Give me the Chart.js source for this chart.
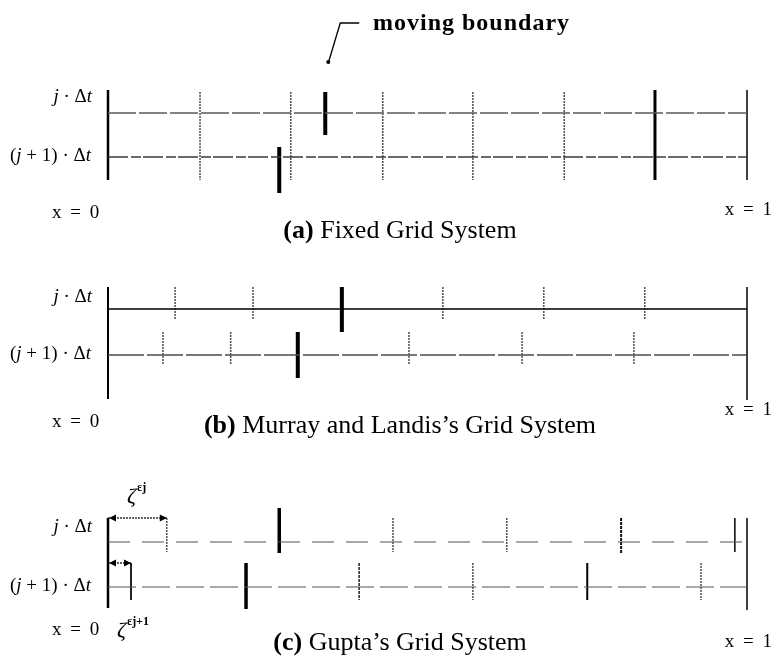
<!DOCTYPE html>
<html><head><meta charset="utf-8">
<script src="https://cdn.jsdelivr.net/npm/chart.js@4.4.0/dist/chart.umd.min.js"></script>
<style>html,body{margin:0;padding:0;background:#fff;}canvas{display:block}</style>
</head><body>
<canvas id="c" width="771" height="656"></canvas>
<script>
// ---------------- data ----------------
const rowLabels = ['j · Δt', '(j + 1) · Δt'];
const edgeLabels = ['x = 0', 'x = 1'];
const panelTags = ['(a)', '(b)', '(c)'];
const panelTitles = ['Fixed Grid System', 'Murray and Landis’s Grid System', 'Gupta’s Grid System'];
const annotationText = 'moving boundary';
const offsetSymbol = 'ζ';
const offsetSup = ['εj', 'εj+1'];
const domain = [0, 1];
// (a) fixed grid nodes and front position at rows j, j+1
const fixedNodes = [0, 0.144, 0.286, 0.430, 0.571, 0.714, 0.856, 1];
const fixedFront = [0.340, 0.268];
// (b) Murray & Landis moving nodes (excluding front & ends)
const murrayNodesJ = [0.105, 0.227, 0.524, 0.682, 0.840];
const murrayNodesJ1 = [0.086, 0.192, 0.471, 0.648, 0.823];
const murrayFront = [0.366, 0.297];
// (c) Gupta nodes
const guptaNodesJ = [0.092, 0.446, 0.624, 0.803, 0.981];
const guptaNodesJ1 = [0.036, 0.393, 0.571, 0.750, 0.928];
const guptaFront = [0.268, 0.216];

// ---------------- helpers ----------------
function vlines(xs, y1, y2) {
  const p = [];
  xs.forEach(x => { p.push({x: x, y: y1}, {x: x, y: y2}, {x: x, y: null}); });
  return p;
}
function hline(y) { return [{x: domain[0], y: y}, {x: domain[1], y: y}]; }
function seg(x1, x2, y) { return [{x: x1, y: y}, {x: x2, y: y}]; }
function ds(data, color, width, dash) {
  return {data: data, borderColor: color, borderWidth: width, borderDash: dash || [],
    showLine: true, pointRadius: 0, pointHoverRadius: 0, spanGaps: false, tension: 0,
    fill: false, borderCapStyle: 'butt'};
}
const DOT = [2, 1];
const GRAY = '#505050';

const datasets = [
  // ---- (a) ----
  ds(hline(113), '#5a5a5a', 1.5, [28, 3]),
  ds(hline(157), '#3a3a3a', 1.5, [20, 3, 10, 2]),
  ds(vlines(fixedNodes.slice(1, 6), 92, 180), GRAY, 1.5, DOT),
  ds(vlines([fixedNodes[6]], 90, 180), '#000', 3),
  ds(vlines([fixedNodes[0]], 90, 180), '#000', 2.5),
  ds(vlines([fixedNodes[7]], 90, 180), '#000', 1.5),
  ds(vlines([fixedFront[0]], 92, 135), '#000', 4),
  ds(vlines([fixedFront[1]], 147, 193), '#000', 4),
  // ---- (b) ----
  ds(hline(309), '#000', 1.3),
  ds(hline(355), '#4a4a4a', 1.5, [36, 3]),
  ds(vlines(murrayNodesJ, 287, 320), GRAY, 1.5, DOT),
  ds(vlines(murrayNodesJ1, 332, 365), GRAY, 1.5, DOT),
  ds(vlines([domain[0]], 287, 399), '#000', 2),
  ds(vlines([domain[1]], 287, 400), '#000', 1.5),
  ds(vlines([murrayFront[0]], 287, 332), '#000', 4),
  ds(vlines([murrayFront[1]], 332, 378), '#000', 4),
  // ---- (c) ----
  ds(hline(542), '#555', 1.2, [22, 12]),
  ds(hline(587), '#555', 1.2, [28, 6]),
  ds(vlines([guptaNodesJ[0], guptaNodesJ[1], guptaNodesJ[2]], 518, 552), GRAY, 1.5, DOT),
  ds(vlines([guptaNodesJ[3]], 518, 553), '#111', 2, [3, 1]),
  ds(vlines([guptaNodesJ[4]], 518, 552), '#000', 1.5),
  ds(vlines([guptaNodesJ1[0]], 563, 600), '#000', 1),
  ds(vlines([guptaNodesJ1[1]], 563, 600), '#222', 1.5, [3, 1]),
  ds(vlines([guptaNodesJ1[2], guptaNodesJ1[4]], 563, 600), GRAY, 1.5, DOT),
  ds(vlines([guptaNodesJ1[3]], 563, 600), '#000', 2),
  ds(vlines([domain[0]], 518, 608), '#000', 2.5),
  ds(vlines([domain[1]], 518, 610), '#000', 1.5),
  ds(vlines([guptaFront[0]], 508, 553), '#000', 3.5),
  ds(vlines([guptaFront[1]], 563, 609), '#000', 3.5),
  ds(seg(domain[0], guptaNodesJ[0], 518), '#333', 1.5, DOT),
  ds(seg(domain[0], guptaNodesJ1[0], 563), '#333', 1.5, DOT)
];

// ---------------- text / annotation plugin ----------------
const SERIF = '"Liberation Serif", "DejaVu Serif", serif';
function drawRuns(ctx, parts, x, y, align) {
  let w = 0;
  parts.forEach(p => { ctx.font = p[1]; w += ctx.measureText(p[0]).width; });
  let cx = align === 'right' ? x - w : (align === 'center' ? x - w / 2 : x);
  parts.forEach(p => { ctx.font = p[1]; ctx.fillText(p[0], cx, y); cx += ctx.measureText(p[0]).width; });
}
function mathRuns(str, size) {
  const parts = [];
  for (const ch of str) {
    const it = (ch === 'j' || ch === 't');
    const f = (it ? 'italic ' : '') + size + 'px ' + SERIF;
    if (parts.length && parts[parts.length - 1][1] === f) parts[parts.length - 1][0] += ch;
    else parts.push([ch, f]);
  }
  return parts;
}
function arrowHead(ctx, x, y, dir) {
  ctx.beginPath();
  ctx.moveTo(x, y);
  ctx.lineTo(x - dir * 7, y - 3.5);
  ctx.lineTo(x - dir * 7, y + 3.5);
  ctx.closePath();
  ctx.fill();
}
const textPlugin = {
  id: 'texts',
  afterDatasetsDraw(chart) {
    const ctx = chart.ctx, xs = chart.scales.x, ys = chart.scales.y;
    const X = v => xs.getPixelForValue(v), Y = v => ys.getPixelForValue(v);
    ctx.save();
    ctx.fillStyle = '#000';
    ctx.strokeStyle = '#000';
    ctx.textBaseline = 'alphabetic';
    const rowJ = [102, 302, 532], rowJ1 = [161, 359, 591];
    const x0Base = [218, 427, 635], x1Base = [215, 415, 647];
    const capBase = [238, 433, 650];
    for (let i = 0; i < 3; i++) {
      drawRuns(ctx, mathRuns(rowLabels[0], 19), X(domain[0]) - 16, Y(rowJ[i]), 'right');
      drawRuns(ctx, mathRuns(rowLabels[1], 19), 10, Y(rowJ1[i]), 'left');
      ctx.font = '19px ' + SERIF;
      ctx.letterSpacing = '2px';
      ctx.textAlign = 'left';
      ctx.fillText(edgeLabels[0], 52, Y(x0Base[i]));
      ctx.textAlign = 'right';
      ctx.fillText(edgeLabels[1], 774, Y(x1Base[i]));
      ctx.letterSpacing = '0px';
      ctx.textAlign = 'left';
      drawRuns(ctx, [[panelTags[i], 'bold 26px ' + SERIF], [' ' + panelTitles[i], '26px ' + SERIF]], 400, Y(capBase[i]), 'center');
    }
    // moving boundary annotation
    ctx.font = 'bold 24px ' + SERIF;
    ctx.letterSpacing = '1px';
    ctx.textAlign = 'left';
    ctx.fillText(annotationText, 373, Y(30));
    ctx.letterSpacing = '0px';
    const fx = X(fixedFront[0]);
    ctx.lineWidth = 1.3;
    ctx.beginPath();
    ctx.moveTo(fx + 3, Y(63));
    ctx.lineTo(fx + 15, Y(23));
    ctx.lineTo(fx + 34, Y(23));
    ctx.stroke();
    ctx.beginPath();
    ctx.arc(fx + 3, Y(62), 2, 0, Math.PI * 2);
    ctx.fill();
    // Gupta offset arrows
    arrowHead(ctx, X(domain[0]) + 1, Y(518), -1);
    arrowHead(ctx, X(guptaNodesJ[0]), Y(518), 1);
    arrowHead(ctx, X(domain[0]) + 1, Y(563), -1);
    arrowHead(ctx, X(guptaNodesJ1[0]), Y(563), 1);
    // offset labels
    ctx.font = 'italic 22px ' + SERIF;
    ctx.fillText(offsetSymbol, 127, Y(503));
    ctx.font = 'bold 12px ' + SERIF;
    ctx.fillText(offsetSup[0], 137, Y(491));
    ctx.font = 'italic 22px ' + SERIF;
    ctx.fillText(offsetSymbol, 117, Y(637));
    ctx.font = 'bold 12px ' + SERIF;
    ctx.fillText(offsetSup[1], 127, Y(625));
    ctx.restore();
  }
};

new Chart(document.getElementById('c'), {
  type: 'scatter',
  data: {datasets: datasets},
  options: {
    responsive: false,
    animation: false,
    devicePixelRatio: 1,
    events: [],
    layout: {padding: 0},
    plugins: {legend: {display: false}, tooltip: {enabled: false}},
    scales: {
      x: {type: 'linear', display: false, min: -108 / 639, max: 1 + 24 / 639},
      y: {type: 'linear', display: false, min: 0, max: 656, reverse: true}
    }
  },
  plugins: [textPlugin]
});
</script>
</body></html>
